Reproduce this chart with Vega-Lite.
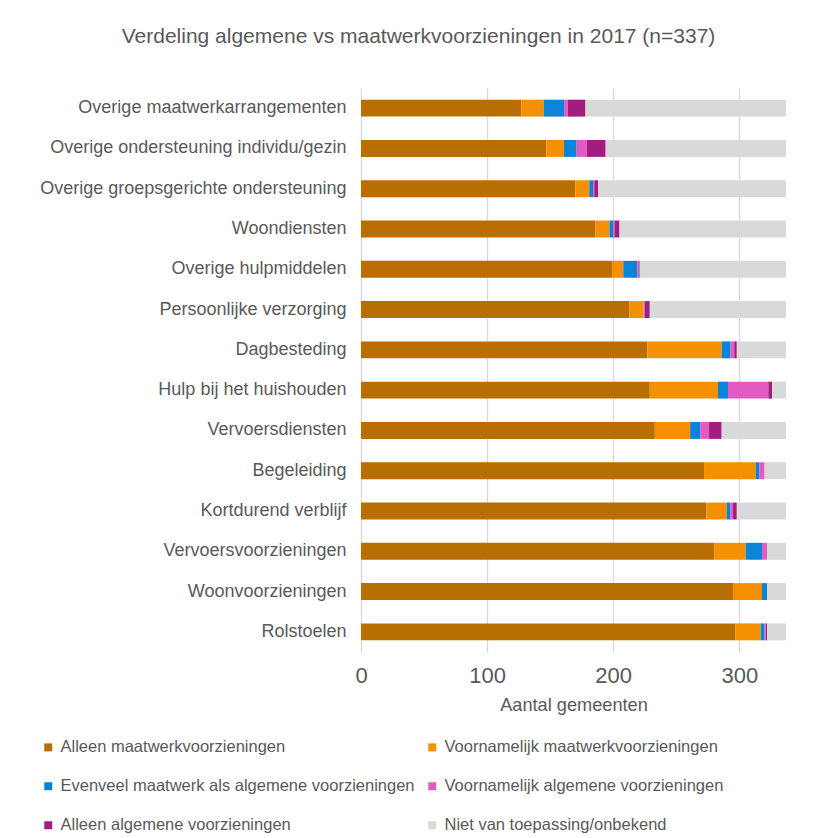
{
  "$schema": "https://vega.github.io/schema/vega-lite/v6.json",
  "autosize": {"type": "none"},
  "padding": {"left": 361, "top": 88, "right": 32, "bottom": 186},
  "width": 425,
  "height": 564,
  "background": "white",
  "title": {
    "text": "Verdeling algemene vs maatwerkvoorzieningen in 2017 (n=337)",
    "font": "Liberation Sans",
    "fontSize": 21,
    "fontWeight": "normal",
    "color": "#595959",
    "anchor": "middle",
    "frame": "group",
    "dx": -155,
    "offset": 41
  },
  "config": {
    "view": {"stroke": null},
    "font": "Liberation Sans"
  },
  "data": {
    "values": [
      {"c": "Overige maatwerkarrangementen", "t": "Alleen maatwerkvoorzieningen", "k": 1, "v": 127},
      {"c": "Overige maatwerkarrangementen", "t": "Voornamelijk maatwerkvoorzieningen", "k": 2, "v": 18},
      {"c": "Overige maatwerkarrangementen", "t": "Evenveel maatwerk als algemene voorzieningen", "k": 3, "v": 16},
      {"c": "Overige maatwerkarrangementen", "t": "Voornamelijk algemene voorzieningen", "k": 4, "v": 3},
      {"c": "Overige maatwerkarrangementen", "t": "Alleen algemene voorzieningen", "k": 5, "v": 14},
      {"c": "Overige maatwerkarrangementen", "t": "Niet van toepassing/onbekend", "k": 6, "v": 159},
      {"c": "Overige ondersteuning individu/gezin", "t": "Alleen maatwerkvoorzieningen", "k": 1, "v": 147},
      {"c": "Overige ondersteuning individu/gezin", "t": "Voornamelijk maatwerkvoorzieningen", "k": 2, "v": 14},
      {"c": "Overige ondersteuning individu/gezin", "t": "Evenveel maatwerk als algemene voorzieningen", "k": 3, "v": 10},
      {"c": "Overige ondersteuning individu/gezin", "t": "Voornamelijk algemene voorzieningen", "k": 4, "v": 8},
      {"c": "Overige ondersteuning individu/gezin", "t": "Alleen algemene voorzieningen", "k": 5, "v": 15},
      {"c": "Overige ondersteuning individu/gezin", "t": "Niet van toepassing/onbekend", "k": 6, "v": 143},
      {"c": "Overige groepsgerichte ondersteuning", "t": "Alleen maatwerkvoorzieningen", "k": 1, "v": 170},
      {"c": "Overige groepsgerichte ondersteuning", "t": "Voornamelijk maatwerkvoorzieningen", "k": 2, "v": 11},
      {"c": "Overige groepsgerichte ondersteuning", "t": "Evenveel maatwerk als algemene voorzieningen", "k": 3, "v": 3},
      {"c": "Overige groepsgerichte ondersteuning", "t": "Voornamelijk algemene voorzieningen", "k": 4, "v": 1},
      {"c": "Overige groepsgerichte ondersteuning", "t": "Alleen algemene voorzieningen", "k": 5, "v": 3},
      {"c": "Overige groepsgerichte ondersteuning", "t": "Niet van toepassing/onbekend", "k": 6, "v": 149},
      {"c": "Woondiensten", "t": "Alleen maatwerkvoorzieningen", "k": 1, "v": 186},
      {"c": "Woondiensten", "t": "Voornamelijk maatwerkvoorzieningen", "k": 2, "v": 11},
      {"c": "Woondiensten", "t": "Evenveel maatwerk als algemene voorzieningen", "k": 3, "v": 3},
      {"c": "Woondiensten", "t": "Voornamelijk algemene voorzieningen", "k": 4, "v": 1},
      {"c": "Woondiensten", "t": "Alleen algemene voorzieningen", "k": 5, "v": 4},
      {"c": "Woondiensten", "t": "Niet van toepassing/onbekend", "k": 6, "v": 132},
      {"c": "Overige hulpmiddelen", "t": "Alleen maatwerkvoorzieningen", "k": 1, "v": 199},
      {"c": "Overige hulpmiddelen", "t": "Voornamelijk maatwerkvoorzieningen", "k": 2, "v": 9},
      {"c": "Overige hulpmiddelen", "t": "Evenveel maatwerk als algemene voorzieningen", "k": 3, "v": 11},
      {"c": "Overige hulpmiddelen", "t": "Voornamelijk algemene voorzieningen", "k": 4, "v": 1},
      {"c": "Overige hulpmiddelen", "t": "Alleen algemene voorzieningen", "k": 5, "v": 1},
      {"c": "Overige hulpmiddelen", "t": "Niet van toepassing/onbekend", "k": 6, "v": 116},
      {"c": "Persoonlijke verzorging", "t": "Alleen maatwerkvoorzieningen", "k": 1, "v": 213},
      {"c": "Persoonlijke verzorging", "t": "Voornamelijk maatwerkvoorzieningen", "k": 2, "v": 11},
      {"c": "Persoonlijke verzorging", "t": "Evenveel maatwerk als algemene voorzieningen", "k": 3, "v": 0},
      {"c": "Persoonlijke verzorging", "t": "Voornamelijk algemene voorzieningen", "k": 4, "v": 1},
      {"c": "Persoonlijke verzorging", "t": "Alleen algemene voorzieningen", "k": 5, "v": 4},
      {"c": "Persoonlijke verzorging", "t": "Niet van toepassing/onbekend", "k": 6, "v": 108},
      {"c": "Dagbesteding", "t": "Alleen maatwerkvoorzieningen", "k": 1, "v": 227},
      {"c": "Dagbesteding", "t": "Voornamelijk maatwerkvoorzieningen", "k": 2, "v": 59},
      {"c": "Dagbesteding", "t": "Evenveel maatwerk als algemene voorzieningen", "k": 3, "v": 7},
      {"c": "Dagbesteding", "t": "Voornamelijk algemene voorzieningen", "k": 4, "v": 3},
      {"c": "Dagbesteding", "t": "Alleen algemene voorzieningen", "k": 5, "v": 2},
      {"c": "Dagbesteding", "t": "Niet van toepassing/onbekend", "k": 6, "v": 39},
      {"c": "Hulp bij het huishouden", "t": "Alleen maatwerkvoorzieningen", "k": 1, "v": 229},
      {"c": "Hulp bij het huishouden", "t": "Voornamelijk maatwerkvoorzieningen", "k": 2, "v": 54},
      {"c": "Hulp bij het huishouden", "t": "Evenveel maatwerk als algemene voorzieningen", "k": 3, "v": 8},
      {"c": "Hulp bij het huishouden", "t": "Voornamelijk algemene voorzieningen", "k": 4, "v": 32},
      {"c": "Hulp bij het huishouden", "t": "Alleen algemene voorzieningen", "k": 5, "v": 3},
      {"c": "Hulp bij het huishouden", "t": "Niet van toepassing/onbekend", "k": 6, "v": 11},
      {"c": "Vervoersdiensten", "t": "Alleen maatwerkvoorzieningen", "k": 1, "v": 233},
      {"c": "Vervoersdiensten", "t": "Voornamelijk maatwerkvoorzieningen", "k": 2, "v": 28},
      {"c": "Vervoersdiensten", "t": "Evenveel maatwerk als algemene voorzieningen", "k": 3, "v": 8},
      {"c": "Vervoersdiensten", "t": "Voornamelijk algemene voorzieningen", "k": 4, "v": 7},
      {"c": "Vervoersdiensten", "t": "Alleen algemene voorzieningen", "k": 5, "v": 10},
      {"c": "Vervoersdiensten", "t": "Niet van toepassing/onbekend", "k": 6, "v": 51},
      {"c": "Begeleiding", "t": "Alleen maatwerkvoorzieningen", "k": 1, "v": 272},
      {"c": "Begeleiding", "t": "Voornamelijk maatwerkvoorzieningen", "k": 2, "v": 41},
      {"c": "Begeleiding", "t": "Evenveel maatwerk als algemene voorzieningen", "k": 3, "v": 3},
      {"c": "Begeleiding", "t": "Voornamelijk algemene voorzieningen", "k": 4, "v": 4},
      {"c": "Begeleiding", "t": "Alleen algemene voorzieningen", "k": 5, "v": 0},
      {"c": "Begeleiding", "t": "Niet van toepassing/onbekend", "k": 6, "v": 17},
      {"c": "Kortdurend verblijf", "t": "Alleen maatwerkvoorzieningen", "k": 1, "v": 274},
      {"c": "Kortdurend verblijf", "t": "Voornamelijk maatwerkvoorzieningen", "k": 2, "v": 16},
      {"c": "Kortdurend verblijf", "t": "Evenveel maatwerk als algemene voorzieningen", "k": 3, "v": 3},
      {"c": "Kortdurend verblijf", "t": "Voornamelijk algemene voorzieningen", "k": 4, "v": 2},
      {"c": "Kortdurend verblijf", "t": "Alleen algemene voorzieningen", "k": 5, "v": 3},
      {"c": "Kortdurend verblijf", "t": "Niet van toepassing/onbekend", "k": 6, "v": 39},
      {"c": "Vervoersvoorzieningen", "t": "Alleen maatwerkvoorzieningen", "k": 1, "v": 280},
      {"c": "Vervoersvoorzieningen", "t": "Voornamelijk maatwerkvoorzieningen", "k": 2, "v": 25},
      {"c": "Vervoersvoorzieningen", "t": "Evenveel maatwerk als algemene voorzieningen", "k": 3, "v": 13},
      {"c": "Vervoersvoorzieningen", "t": "Voornamelijk algemene voorzieningen", "k": 4, "v": 4},
      {"c": "Vervoersvoorzieningen", "t": "Alleen algemene voorzieningen", "k": 5, "v": 0},
      {"c": "Vervoersvoorzieningen", "t": "Niet van toepassing/onbekend", "k": 6, "v": 15},
      {"c": "Woonvoorzieningen", "t": "Alleen maatwerkvoorzieningen", "k": 1, "v": 295},
      {"c": "Woonvoorzieningen", "t": "Voornamelijk maatwerkvoorzieningen", "k": 2, "v": 23},
      {"c": "Woonvoorzieningen", "t": "Evenveel maatwerk als algemene voorzieningen", "k": 3, "v": 4},
      {"c": "Woonvoorzieningen", "t": "Voornamelijk algemene voorzieningen", "k": 4, "v": 0},
      {"c": "Woonvoorzieningen", "t": "Alleen algemene voorzieningen", "k": 5, "v": 0},
      {"c": "Woonvoorzieningen", "t": "Niet van toepassing/onbekend", "k": 6, "v": 15},
      {"c": "Rolstoelen", "t": "Alleen maatwerkvoorzieningen", "k": 1, "v": 297},
      {"c": "Rolstoelen", "t": "Voornamelijk maatwerkvoorzieningen", "k": 2, "v": 20},
      {"c": "Rolstoelen", "t": "Evenveel maatwerk als algemene voorzieningen", "k": 3, "v": 3},
      {"c": "Rolstoelen", "t": "Voornamelijk algemene voorzieningen", "k": 4, "v": 1},
      {"c": "Rolstoelen", "t": "Alleen algemene voorzieningen", "k": 5, "v": 1},
      {"c": "Rolstoelen", "t": "Niet van toepassing/onbekend", "k": 6, "v": 15}
    ]
  },
  "mark": {"type": "bar"},
  "encoding": {
    "y": {
      "field": "c",
      "type": "nominal",
      "sort": ["Overige maatwerkarrangementen", "Overige ondersteuning individu/gezin", "Overige groepsgerichte ondersteuning", "Woondiensten", "Overige hulpmiddelen", "Persoonlijke verzorging", "Dagbesteding", "Hulp bij het huishouden", "Vervoersdiensten", "Begeleiding", "Kortdurend verblijf", "Vervoersvoorzieningen", "Woonvoorzieningen", "Rolstoelen"],
      "scale": {"paddingInner": 0.58, "paddingOuter": 0.29},
      "axis": {
        "title": null,
        "domain": false,
        "ticks": false,
        "grid": false,
        "labelFontSize": 18,
        "labelColor": "#595959",
        "labelPadding": 15,
        "labelLimit": 400
      }
    },
    "x": {
      "field": "v",
      "type": "quantitative",
      "stack": "zero",
      "scale": {"domain": [0, 337], "nice": false},
      "axis": {
        "title": "Aantal gemeenten",
        "titleFontSize": 18.2,
        "titleFontWeight": "normal",
        "titleColor": "#595959",
        "titlePadding": 10,
        "values": [0, 100, 200, 300],
        "domain": false,
        "ticks": false,
        "grid": true,
        "gridColor": "#D9D9D9",
        "gridWidth": 1.3,
        "labelFontSize": 22,
        "labelColor": "#595959",
        "labelPadding": 13,
        "labelFlush": false
      }
    },
    "color": {
      "field": "t",
      "type": "nominal",
      "scale": {
        "domain": ["Alleen maatwerkvoorzieningen", "Voornamelijk maatwerkvoorzieningen", "Evenveel maatwerk als algemene voorzieningen", "Voornamelijk algemene voorzieningen", "Alleen algemene voorzieningen", "Niet van toepassing/onbekend"],
        "range": ["#B86E00", "#F59100", "#0A84D8", "#E45AC4", "#A31C80", "#D9D9D9"]
      },
      "legend": {
        "title": null,
        "orient": "none",
        "direction": "horizontal",
        "legendX": -321,
        "legendY": 651,
        "columns": 2,
        "symbolType": "square",
        "symbolSize": 64,
        "symbolStrokeWidth": 0,
        "labelFontSize": 16.5,
        "labelColor": "#595959",
        "labelOffset": 4,
        "labelLimit": 420,
        "rowPadding": 22,
        "columnPadding": 9
      }
    },
    "order": {"field": "k", "type": "quantitative"}
  }
}
